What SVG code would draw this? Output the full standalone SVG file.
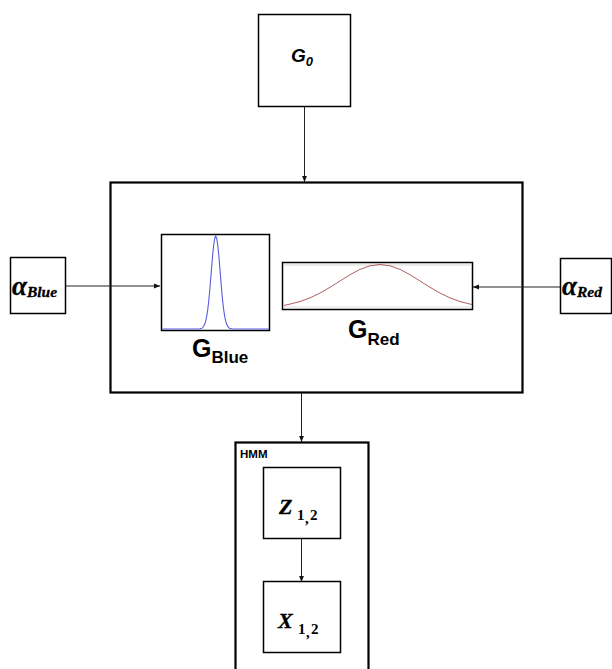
<svg xmlns="http://www.w3.org/2000/svg" width="612" height="669" viewBox="0 0 612 669">
  <defs>
    <marker id="arrow" viewBox="0 0 6 6" refX="6" refY="3" markerWidth="6" markerHeight="6" markerUnits="userSpaceOnUse" orient="auto">
      <path d="M0,0.6 L6,3 L0,5.4 Z" fill="#111"/>
    </marker>
  </defs>
  <style>
    .box { fill: #fff; stroke: #000; stroke-width: 1.5; }
    .frame { fill: none; stroke: #000; stroke-width: 2.2; }
    .edge { fill: none; stroke: #222; stroke-width: 1; marker-end: url(#arrow); }
    .sans { font-family: "Liberation Sans", Arial, sans-serif; font-weight: bold; fill: #000; }
    .math { font-family: "Liberation Serif", "DejaVu Serif", serif; font-weight: bold; font-style: italic; fill: #000; stroke: #000; stroke-width: 0.3; }
    .sub { font-family: "Liberation Serif", "DejaVu Serif", serif; font-weight: bold; fill: #000; }
  </style>
  <rect width="612" height="669" fill="#fff"/>

  <!-- outer frames -->
  <g id="mixture">
    <rect class="frame" x="110.5" y="182.5" width="412" height="210"/>
  </g>
  <g id="hmm">
    <rect class="frame" x="235.5" y="442.5" width="133" height="240"/>
    <text class="sans" x="240" y="458" font-size="11.5">HMM</text>
  </g>

  <!-- connectors -->
  <g id="edges">
    <line class="edge" x1="304.5" y1="107" x2="304.5" y2="182"/>
    <line class="edge" x1="65" y1="286" x2="160" y2="286"/>
    <line class="edge" x1="560" y1="287" x2="473" y2="287"/>
    <line class="edge" x1="301.5" y1="393" x2="301.5" y2="442"/>
    <line class="edge" x1="301.5" y1="538" x2="301.5" y2="582"/>
  </g>

  <g id="g0">
    <rect class="box" x="258.5" y="14.5" width="92" height="92"/>
    <text class="sans" font-style="italic" x="291" y="62" font-size="19">G<tspan font-size="13" dy="4">0</tspan></text>
  </g>

  <g id="alpha-blue">
    <rect class="box" x="10.5" y="257.5" width="55" height="56"/>
    <text class="math" x="12" y="295" font-size="27">α<tspan font-size="15.5" dy="2">Blue</tspan></text>
  </g>

  <g id="alpha-red">
    <rect class="box" x="560.5" y="258.5" width="51" height="55"/>
    <text class="math" x="562" y="295" font-size="27">α<tspan font-size="15.5" dy="2">Red</tspan></text>
  </g>

  <g id="g-blue">
    <rect class="box" x="161.5" y="234.5" width="108" height="96"/>
    <polyline fill="none" stroke="#5a5ae0" stroke-width="1.1" points="162,329 197.7,329 199.7,328.8 201.7,328.3 202.7,327.6 203.7,326.3 204.7,324.3 205.7,321.1 206.7,316.4 207.7,309.9 208.7,301.3 209.7,290.8 210.7,278.8 211.7,266.3 212.7,254.5 213.7,244.7 214.7,238.3 215.7,236 216.7,238.3 217.7,244.7 218.7,254.5 219.7,266.3 220.7,278.8 221.7,290.8 222.7,301.3 223.7,309.9 224.7,316.4 225.7,321.1 226.7,324.3 227.7,326.3 228.7,327.6 229.7,328.3 231.7,328.8 233.7,329 269,329"/>
    <text class="sans" x="192" y="357" font-size="25">G<tspan font-size="17" dy="6">Blue</tspan></text>
  </g>

  <g id="g-red">
    <rect class="box" x="282.5" y="262.5" width="190" height="47"/>
    <line x1="284" y1="265" x2="471" y2="265" stroke="#d4d4d4" stroke-width="1"/>
    <line x1="284" y1="307" x2="471" y2="307" stroke="#e0e0e0" stroke-width="1"/>
    <polyline fill="none" stroke="#b06060" stroke-width="1" points="284,305.4 290,304.1 300,301.5 310,297.9 320,293.1 330,287.3 340,281 350,274.7 360,269.4 370,265.8 380,264.5 390,265.8 400,269.4 410,274.7 420,281 430,287.3 440,293.1 450,297.9 460,301.5 470,304.1 472,304.5"/>
    <text class="sans" x="348" y="338" font-size="25">G<tspan font-size="17" dy="7">Red</tspan></text>
  </g>

  <g id="z">
    <rect class="box" x="263.5" y="467.5" width="77" height="71"/>
    <text class="math" x="279" y="514" font-size="22">Z</text>
    <text class="sub" y="520" font-size="15"><tspan x="297">1</tspan><tspan x="305" dy="3">,</tspan><tspan x="310" dy="-3">2</tspan></text>
  </g>

  <g id="x">
    <rect class="box" x="263.5" y="581.5" width="77" height="71"/>
    <text class="math" x="278" y="628" font-size="22">X</text>
    <text class="sub" y="634" font-size="15"><tspan x="298">1</tspan><tspan x="306" dy="3">,</tspan><tspan x="311" dy="-3">2</tspan></text>
  </g>
</svg>
